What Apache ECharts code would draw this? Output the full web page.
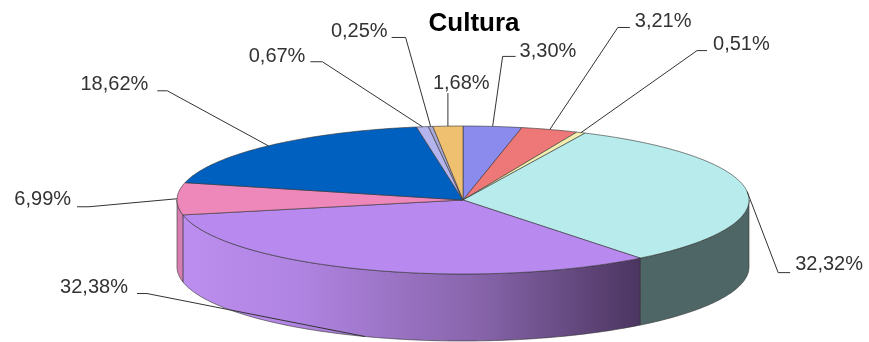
<!DOCTYPE html>
<html>
<head>
<meta charset="utf-8">
<script src="https://cdn.jsdelivr.net/npm/echarts@6/dist/echarts.min.js"></script>
<style>html,body{margin:0;padding:0;background:#fff}#c{width:869px;height:342px}</style>
</head>
<body>
<div id="c"></div>
<script>
// ---- data ----
const chartTitle = 'Cultura';
const categories = ['Fatia 1', 'Fatia 2', 'Fatia 3', 'Fatia 4', 'Fatia 5', 'Fatia 6', 'Fatia 7', 'Fatia 8', 'Fatia 9', 'Fatia 10'];
const values = [3.30, 3.21, 0.51, 32.32, 32.38, 6.99, 18.62, 0.67, 0.25, 1.68];

// ---- styles / layout ----
const topColors = ['#8b8bee', '#ee7777', '#f2eeb0', '#b8ecec', '#b889ee', '#ee88bb', '#0060c0', '#b4b4ee', '#a8a8d8', '#eec070'];
const PIE = { cx: 463, cy: 200, rx: 286, ry: 74, depth: 67 };
// elbow offset from rim anchor, horizontal tail length, text offset from tail end, text alignment
const labelLayout = [
  { elbow: [10, -70],   tail: 13,  text: [4, -5],   align: 'left' },
  { elbow: [68, -102],  tail: 12,  text: [5, -6],   align: 'left' },
  { elbow: [116, -82],  tail: 10,  text: [6, -6],   align: 'left' },
  { elbow: [31, 81],    tail: 12,  text: [5, -8],   align: 'left' },
  { elbow: [-218, -43], tail: -10, text: [-9, -6],  align: 'right', bottom: true },
  { elbow: [-88, 8],    tail: -12, text: [-6, -7],  align: 'right' },
  { elbow: [-101, -55], tail: -10, text: [-9, -6],  align: 'right' },
  { elbow: [-100, -65], tail: -12, text: [-5, -5],  align: 'right' },
  { elbow: [-25, -89],  tail: -14, text: [-4, -6],  align: 'right' },
  { elbow: [0, -33],    tail: 0,   text: [-15, -10], align: 'left' }
];

function wallFill(i) {
  if (i === 4) {
    return new echarts.graphic.LinearGradient(0, 0, 1, 0, [
      { offset: 0, color: '#bc8eef' },
      { offset: 0.25, color: '#b084e2' },
      { offset: 0.65, color: '#8764aa' },
      { offset: 1, color: '#4b3560' }
    ]);
  }
  if (i === 3) return '#4f6666';
  if (i === 5) return '#d77eb0';
  return topColors[i];
}

const total = values.reduce((a, b) => a + b, 0);
const starts = [];
(function () { let acc = 0; values.forEach(v => { starts.push(acc / total * 360); acc += v; }); })();

function pt(deg, dy) {
  const r = deg * Math.PI / 180;
  return [PIE.cx + PIE.rx * Math.sin(r), PIE.cy - PIE.ry * Math.cos(r) + (dy || 0)];
}
function arc(a0, a1, dy) {
  const n = Math.max(2, Math.ceil(a1 - a0));
  const pts = [];
  for (let k = 0; k <= n; k++) pts.push(pt(a0 + (a1 - a0) * k / n, dy));
  return pts;
}
function fmt(v) { return v.toFixed(2).replace('.', ',') + '%'; }

const chart = echarts.init(document.getElementById('c'), null, { renderer: 'canvas' });
chart.setOption({
  backgroundColor: '#ffffff',
  animation: false,
  title: {
    text: chartTitle,
    left: 469,
    textAlign: 'center',
    top: 6,
    textStyle: { fontSize: 26, fontWeight: 'bold', color: '#000', fontFamily: '"Liberation Sans", Arial, sans-serif' }
  },
  series: [{
    type: 'custom',
    coordinateSystem: 'none',
    data: values.map((v, i) => ({ name: categories[i], value: [i, v] })),
    renderItem: function (params, api) {
      const i = params.dataIndex;
      const v = api.value(1);
      const a0 = starts[i];
      const a1 = a0 + v / total * 360;
      const children = [];
      const w0 = Math.max(a0, 90), w1 = Math.min(a1, 270);
      if (w1 > w0) {
        const top = arc(w0, w1, 0);
        const bot = arc(w0, w1, PIE.depth).reverse();
        children.push({
          type: 'polygon', z2: 1,
          shape: { points: top.concat(bot) },
          style: { fill: wallFill(i), stroke: '#333', lineWidth: 0.6 }
        });
      }
      children.push({
        type: 'polygon', z2: 2,
        shape: { points: [[PIE.cx, PIE.cy]].concat(arc(a0, a1, 0)) },
        style: { fill: topColors[i], stroke: '#333', lineWidth: 0.6 }
      });
      const L = labelLayout[i];
      const mid = (a0 + a1) / 2;
      const anchor = pt(mid, L.bottom ? PIE.depth : 0);
      const elbow = [anchor[0] + L.elbow[0], anchor[1] + L.elbow[1]];
      const end = [elbow[0] + L.tail, elbow[1]];
      children.push({
        type: 'polyline', z2: 5,
        shape: { points: [anchor, elbow, end] },
        style: { stroke: '#333', lineWidth: 1, fill: null }
      });
      children.push({
        type: 'text', z2: 6,
        x: end[0] + L.text[0], y: end[1] + L.text[1],
        style: {
          text: fmt(v), fill: '#333',
          font: '20px "Liberation Sans", Arial, sans-serif',
          align: L.align, verticalAlign: 'middle'
        }
      });
      return { type: 'group', children: children };
    }
  }]
});
</script>
</body>
</html>
